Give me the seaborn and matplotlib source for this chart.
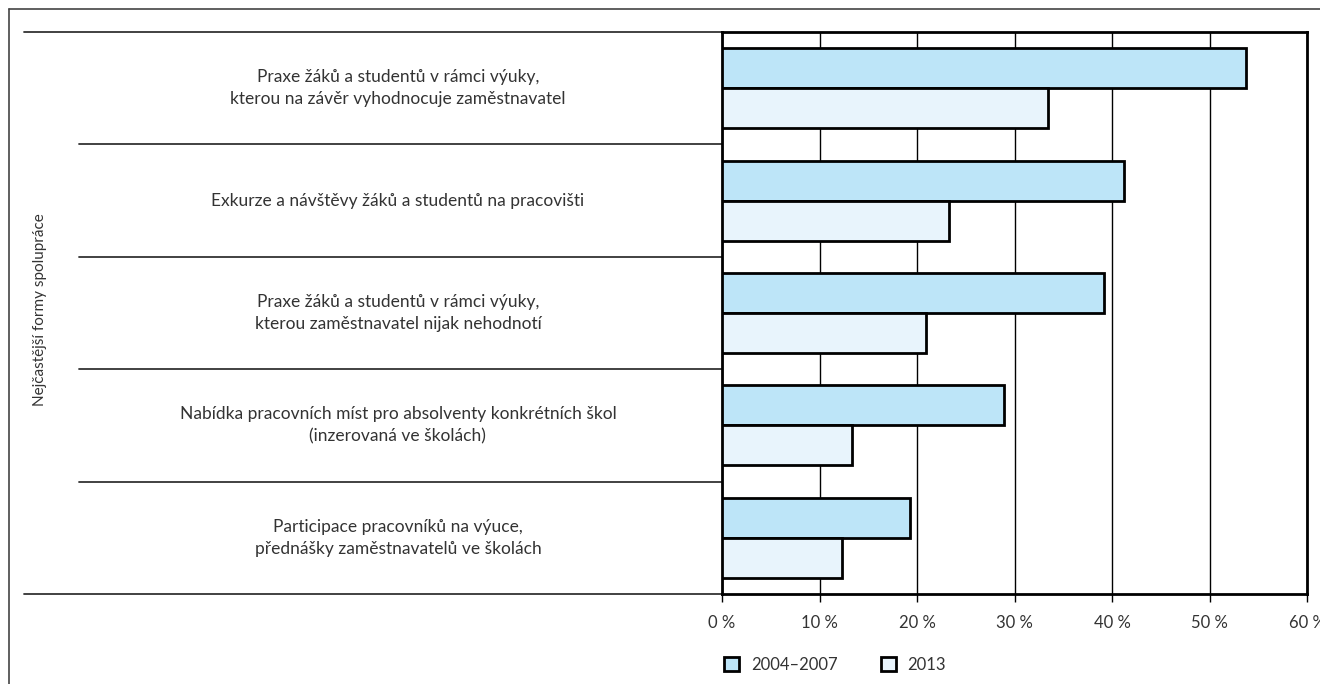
import matplotlib
matplotlib.use("Agg")
import matplotlib.pyplot as plt
from matplotlib.lines import Line2D
import pandas as pd
import seaborn as sns

categories = [
    "Praxe žáků a studentů v rámci výuky,\nkterou na závěr vyhodnocuje zaměstnavatel",
    "Exkurze a návštěvy žáků a studentů na pracovišti",
    "Praxe žáků a studentů v rámci výuky,\nkterou zaměstnavatel nijak nehodnotí",
    "Nabídka pracovních míst pro absolventy konkrétních škol\n(inzerovaná ve školách)",
    "Participace pracovníků na výuce,\npřednášky zaměstnavatelů ve školách",
]
periods = ["2004–2007", "2013"]
values_2004_2007 = [53.7, 41.2, 39.2, 28.9, 19.3]
values_2013 = [33.4, 23.3, 20.9, 13.3, 12.3]
x_ticks = [0, 10, 20, 30, 40, 50, 60]
y_title = "Nejčastější formy spolupráce"

colors = ["#bde5f8", "#e8f4fc"]
text_color = "#333333"

df = pd.DataFrame({
    "forma": categories * 2,
    "obdobi": [periods[0]] * len(categories) + [periods[1]] * len(categories),
    "podil": values_2004_2007 + values_2013,
})

sns.set_style("white")
plt.rcParams["font.family"] = ["Lato", "DejaVu Sans"]

fig = plt.figure(figsize=(13.2, 6.84), dpi=100)
ax = fig.add_axes([722 / 1320, 1 - 594 / 684, 585 / 1320, 562 / 684])

sns.barplot(data=df, y="forma", x="podil", hue="obdobi", order=categories,
            hue_order=periods, palette=colors, saturation=1, orient="h",
            width=0.71, edgecolor="black", linewidth=2, ax=ax, zorder=3)

n = len(categories)
ax.set_xlim(0, 60)
ax.set_ylim(n - 0.5, -0.5)
ax.set_xticks(x_ticks)
ax.set_xticklabels([f"{t} %" for t in x_ticks], fontsize=12, color=text_color)
ax.tick_params(axis="x", length=6, width=1, color="black", pad=9, bottom=True)
ax.set_yticks([])
ax.set_xlabel("")
ax.set_ylabel("")
ax.xaxis.grid(True, color="black", linewidth=1, zorder=0)
ax.set_axisbelow(True)
for s in ax.spines.values():
    s.set_visible(True)
    s.set_color("black")
    s.set_linewidth(2)

# category labels and separators left of the axes
tr = ax.get_yaxis_transform()
for i, label in enumerate(categories):
    ax.text(-0.554, i, label, transform=tr, ha="center", va="center",
            fontsize=12.5, color=text_color, linespacing=1.5)
for b in range(n + 1):
    y = b - 0.5
    x0 = -1.193 if b in (0, n) else -1.1
    ax.plot([x0, 0], [y, y], transform=tr, color="#333333", linewidth=1.3,
            clip_on=False)

fig.text(40 / 1320, 1 - 310 / 684, y_title, rotation=90, ha="center",
         va="center", fontsize=11, color=text_color)

# outer frame
fig.add_artist(Line2D([9 / 1320, 1], [1 - 9 / 684, 1 - 9 / 684],
                      color="#444444", linewidth=1.2))
fig.add_artist(Line2D([9 / 1320, 9 / 1320], [0, 1 - 9 / 684],
                      color="#444444", linewidth=1.2))

handles, labels = ax.get_legend_handles_labels()
ax.legend(handles, labels, loc="upper left", bbox_to_anchor=(-0.022, -0.085),
          ncol=2, frameon=False, handlelength=0.9, handleheight=0.9,
          handletextpad=0.7, columnspacing=2.6, fontsize=12,
          labelcolor=text_color)

fig.savefig("out.png", dpi=100)
